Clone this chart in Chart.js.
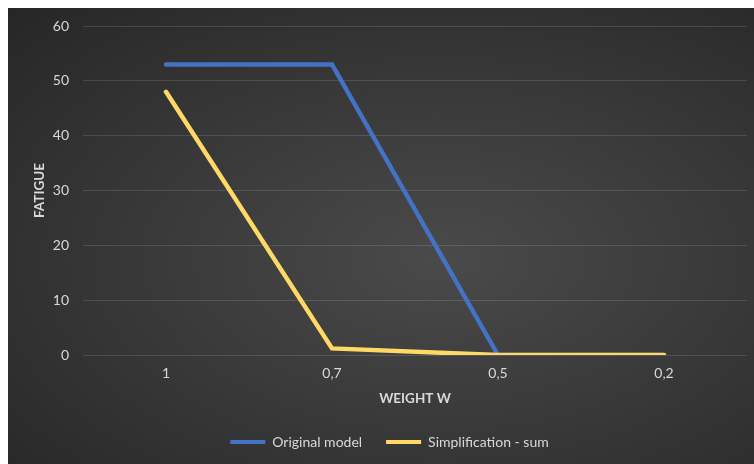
<!DOCTYPE html>
<html><head><meta charset="utf-8">
<script src="https://cdn.jsdelivr.net/npm/chart.js@4/dist/chart.umd.min.js"></script>
<style>
html,body{margin:0;padding:0;background:#fff;width:754px;height:464px;overflow:hidden;}
#wrap{position:absolute;left:8px;top:8px;width:746px;height:456px;
background:radial-gradient(ellipse farthest-corner at 58% 55%, #4a4a4a 0%, #3a3a3a 45%, #262626 100%);}
</style></head>
<body><div id="wrap"><canvas id="c" width="746" height="456"></canvas></div>
<script>
const categories = ['1', '0,7', '0,5', '0,2'];
const originalModel = [53, 53, 0, 0];
const simplificationSum = [48, 1.2, 0, 0];
const yTicks = [0, 10, 20, 30, 40, 50, 60];

const FONT = 'Lato, "Open Sans", sans-serif';
const TXT = '#d9d9d9';

const shiftLegend = {
  id: 'shiftLegend',
  afterLayout(chart) {
    const lg = chart.legend;
    if (lg) { lg.left += 12; lg.right += 12; }
  }
};

new Chart(document.getElementById('c'), {
  type: 'line',
  data: {
    labels: categories,
    datasets: [
      {label: 'Original model', data: originalModel, borderColor: '#4472c4', backgroundColor: '#4472c4',
       borderWidth: 4.5, pointRadius: 0, tension: 0, order: 1, borderCapStyle: 'round', borderJoinStyle: 'miter'},
      {label: 'Simplification - sum', data: simplificationSum, borderColor: '#ffd966', backgroundColor: '#ffd966',
       borderWidth: 4.5, pointRadius: 0, tension: 0, order: 0, borderCapStyle: 'round', borderJoinStyle: 'miter'}
    ]
  },
  plugins: [shiftLegend],
  options: {
    responsive: false,
    animation: false,
    layout: {padding: {left: 0, right: 7, top: 18, bottom: 5}},
    plugins: {
      tooltip: {enabled: false},
      legend: {
        position: 'bottom',
        labels: {
          color: TXT, font: {family: FONT, size: 14}, boxWidth: 35, boxHeight: 4, padding: 24,
          generateLabels: (chart) => chart.data.datasets.map((d, i) => ({
            text: d.label, fillStyle: d.borderColor, strokeStyle: d.borderColor, lineWidth: 0,
            fontColor: TXT, datasetIndex: i, hidden: false
          }))
        }
      }
    },
    scales: {
      x: {
        offset: true,
        grid: {display: false, drawTicks: false},
        border: {display: false},
        ticks: {color: TXT, font: {family: FONT, size: 14}, padding: 10},
        title: {display: true, text: 'WEIGHT W', color: TXT, font: {family: FONT, size: 13.5, weight: 'bold'}, padding: {top: 0, bottom: 4}},
        afterFit: (s) => { s.height = 56; s.paddingLeft = 0; s.paddingRight = 0; }
      },
      y: {
        min: 0, max: 60,
        afterBuildTicks: (s) => { s.ticks = yTicks.map(v => ({value: v})); },
        grid: {color: 'rgba(255,255,255,0.13)', lineWidth: 1, drawTicks: false},
        border: {display: false},
        ticks: {color: TXT, font: {family: FONT, size: 14}, padding: 14},
        title: {display: true, text: 'FATIGUE', color: TXT, font: {family: FONT, size: 13.5, weight: 'bold'}, padding: {top: 24, bottom: 0}},
        afterFit: (s) => { s.width = 75; s.paddingTop = 0; s.paddingBottom = 0; }
      }
    }
  }
});
</script></body></html>
